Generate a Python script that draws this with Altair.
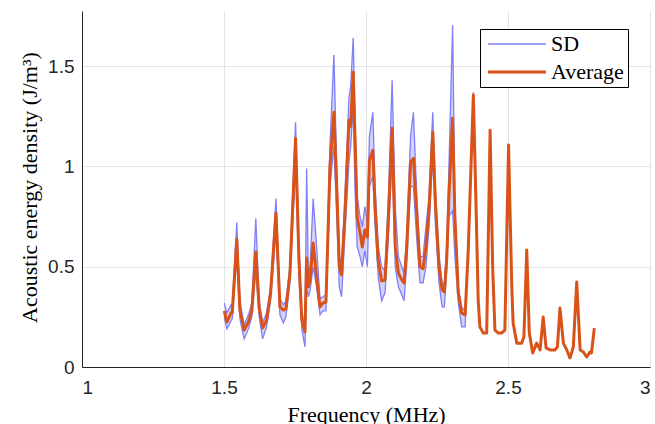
import altair as alt
import pandas as pd

# Frequency samples (MHz)
freq = [1.501, 1.510, 1.525, 1.529, 1.545, 1.556, 1.571, 1.586, 1.598, 1.612,
        1.624, 1.636, 1.650, 1.664, 1.683, 1.697, 1.709, 1.718, 1.732, 1.752,
        1.764, 1.774, 1.785, 1.791, 1.797, 1.803, 1.814, 1.826, 1.838, 1.848,
        1.859, 1.873, 1.887, 1.897, 1.906, 1.914, 1.926, 1.940, 1.946, 1.955,
        1.961, 1.969, 1.979, 1.987, 1.996, 2.005, 2.012, 2.024, 2.032, 2.043,
        2.055, 2.067, 2.079, 2.092, 2.103, 2.114, 2.126, 2.134, 2.143, 2.157,
        2.167, 2.178, 2.190, 2.201, 2.211, 2.222, 2.235, 2.245, 2.257, 2.268,
        2.276, 2.284, 2.292, 2.305, 2.313, 2.325, 2.337, 2.349, 2.360, 2.378,
        2.387, 2.395, 2.401,
        2.413, 2.425, 2.437, 2.446, 2.454, 2.466, 2.478, 2.489, 2.502, 2.513,
        2.518, 2.531, 2.548, 2.556, 2.566, 2.575, 2.587, 2.601, 2.613, 2.624,
        2.634, 2.648, 2.665, 2.674, 2.683, 2.695, 2.707, 2.718, 2.730, 2.742,
        2.754, 2.765, 2.777, 2.789, 2.794, 2.804]

# Average acoustic energy density (J/m^3)
average = [0.28, 0.224, 0.27, 0.27, 0.636, 0.284, 0.184, 0.224, 0.28, 0.573,
           0.29, 0.194, 0.234, 0.368, 0.767, 0.30, 0.284, 0.29, 0.459, 1.14,
           0.533, 0.234, 0.175, 0.543, 0.40, 0.434, 0.618, 0.449, 0.30, 0.319,
           0.324, 0.997, 1.27, 0.897, 0.5, 0.459, 0.768, 1.23, 1.2, 1.47,
           1.16, 0.748, 0.668, 0.598, 0.683, 0.648, 1.03, 1.08, 0.798, 0.533,
           0.429, 0.434, 0.75, 1.19, 0.598, 0.469, 0.434, 0.419, 0.583, 1.02,
           1.04, 0.78, 0.5, 0.49, 0.6, 0.783, 1.17, 0.8, 0.5, 0.384,
           0.374, 0.533, 0.85, 1.24, 0.748, 0.369, 0.269, 0.259, 0.583, 1.356,
           0.833, 0.334, 0.2,
           0.169, 0.169, 1.18, 0.498, 0.184, 0.169, 0.17, 0.184, 1.107, 0.419,
           0.219, 0.119, 0.119, 0.15, 0.583, 0.169, 0.07, 0.119, 0.085, 0.249,
           0.095, 0.085, 0.085, 0.10, 0.294, 0.119, 0.085, 0.045, 0.10, 0.424,
           0.085, 0.075, 0.05, 0.075, 0.07, 0.194]

# SD envelope (upper / lower), visible up to ~2.4 MHz
sd_upper = [0.32, 0.27, 0.31, 0.30, 0.72, 0.33, 0.21, 0.26, 0.32, 0.74,
            0.33, 0.22, 0.27, 0.40, 0.84, 0.34, 0.31, 0.33, 0.50, 1.22,
            0.60, 0.27, 0.20, 0.99, 0.45, 0.50, 0.84, 0.60, 0.34, 0.35,
            0.36, 1.10, 1.555, 1.0, 0.55, 0.52, 0.85, 1.34, 1.40, 1.64,
            1.25, 0.85, 0.75, 0.70, 0.80, 0.72, 1.15, 1.27, 0.90, 0.60,
            0.50, 0.48, 0.85, 1.43, 0.80, 0.55, 0.50, 0.47, 0.65, 1.15,
            1.27, 0.88, 0.55, 0.55, 0.70, 0.85, 1.27, 0.87, 0.56, 0.42,
            0.41, 0.60, 1.0, 1.705, 0.80, 0.40, 0.30, 0.28, 0.60, 1.37,
            0.85, 0.35, 0.21]
sd_lower = [0.25, 0.19, 0.23, 0.24, 0.55, 0.24, 0.14, 0.19, 0.25, 0.48,
            0.25, 0.14, 0.20, 0.33, 0.68, 0.26, 0.22, 0.25, 0.42, 1.0,
            0.45, 0.19, 0.10, 0.40, 0.35, 0.38, 0.50, 0.40, 0.26, 0.28,
            0.28, 0.90, 1.10, 0.75, 0.40, 0.35, 0.67, 1.02, 1.10, 1.30,
            0.90, 0.60, 0.55, 0.50, 0.58, 0.50, 0.90, 0.95, 0.70, 0.45,
            0.33, 0.37, 0.65, 1.05, 0.50, 0.40, 0.36, 0.33, 0.50, 0.90,
            0.90, 0.65, 0.42, 0.42, 0.50, 0.70, 1.05, 0.70, 0.42, 0.30,
            0.30, 0.48, 0.75, 0.78, 0.55, 0.32, 0.20, 0.20, 0.55, 1.34,
            0.80, 0.32, 0.19]

series_names = ["SD", "Average"]
x_ticks = [1, 1.5, 2, 2.5, 3]
y_ticks = [0, 0.5, 1, 1.5]

BLUE = "#7f7ffb"
BLUE_FILL = "#d2d2f8"
ORANGE = "#D95319"

n_sd = min(len(sd_upper), len(sd_lower))
band_df = pd.DataFrame({"freq": freq[:n_sd], "hi": sd_upper[:n_sd], "lo": sd_lower[:n_sd]})
sd_lines = pd.concat([
    pd.DataFrame({"freq": freq[:n_sd], "value": sd_upper[:n_sd], "part": "upper", "series": "SD"}),
    pd.DataFrame({"freq": freq[:n_sd], "value": sd_lower[:n_sd], "part": "lower", "series": "SD"}),
])
avg_df = pd.DataFrame({"freq": freq, "value": average, "part": "avg", "series": "Average"})

xscale = alt.Scale(domain=[1, 3], nice=False, zero=False)
yscale = alt.Scale(domain=[0, 1.775], nice=False)

xaxis = alt.Axis(values=x_ticks, format="~g", title="Frequency (MHz)",
                 labelPadding=11, titleY=37, titleBaseline="top")
yaxis = alt.Axis(values=y_ticks, format="~g", title="Acoustic energy density (J/m³)",
                 labelPadding=8, titleX=-53, titleY=176, titleAngle=-90,
                 titleAlign="center", titleBaseline="middle")

legend = alt.Legend(title=None, orient="none", legendX=398, legendY=18,
                    symbolType="M-6,0L6,0", symbolSize=93, symbolOffset=22,
                    labelOffset=23, rowPadding=6, padding=4,
                    strokeColor="black", fillColor="white",
                    labelFont="Liberation Serif", labelFontSize=22, labelColor="black")

color = alt.Color("series:N", scale=alt.Scale(domain=series_names, range=[BLUE, ORANGE]), legend=legend)
width_enc = alt.StrokeWidth("series:N", scale=alt.Scale(domain=series_names, range=[1.3, 3]), legend=legend)

band = alt.Chart(band_df).mark_area(color=BLUE_FILL, opacity=1).encode(
    x=alt.X("freq:Q", scale=xscale, axis=xaxis),
    y=alt.Y("hi:Q", scale=yscale, axis=yaxis),
    y2="lo:Q",
)

sd = alt.Chart(sd_lines).mark_line().encode(
    x=alt.X("freq:Q", scale=xscale),
    y=alt.Y("value:Q", scale=yscale),
    detail="part:N",
    color=color,
    strokeWidth=width_enc,
)

avg = alt.Chart(avg_df).mark_line(strokeJoin="round").encode(
    x=alt.X("freq:Q", scale=xscale),
    y=alt.Y("value:Q", scale=yscale),
    color=color,
    strokeWidth=width_enc,
)

chart = alt.layer(band, sd, avg).properties(
    width=568, height=356,
    autosize=alt.AutoSizeParams(type="none"),
    padding={"left": 82, "top": 11, "right": 5, "bottom": 57},
    background="white",
).configure_view(stroke=None).configure_axis(
    domainColor="#262626", domainWidth=1,
    gridColor="#e3e3e3", gridWidth=1,
    tickSize=0,
    labelFont="Liberation Sans", labelFontSize=19, labelColor="#262626",
    titleFont="Liberation Serif", titleFontSize=22, titleColor="black",
    titleFontWeight="normal",
).configure_legend(strokeWidth=1, cornerRadius=0)

chart.save("out.html", embed_options={"renderer": "svg", "actions": False})
